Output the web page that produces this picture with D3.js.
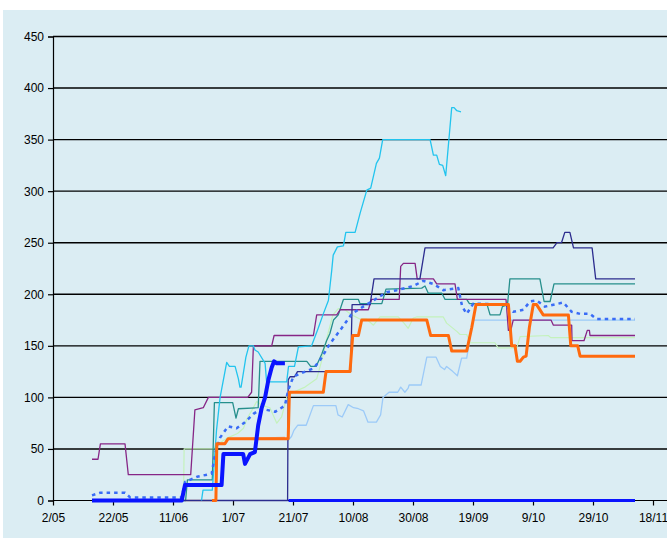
<!DOCTYPE html>
<html>
<head>
<meta charset="utf-8">
<script src="https://cdn.jsdelivr.net/npm/d3@7"></script>
<style>
body { margin: 0; background: #ffffff; }
svg text { font-family: Arial, "Liberation Sans", sans-serif; font-size: 12px; fill: #000; }
</style>
</head>
<body>
<svg id="chart"></svg>
<script>
var screen = {width: 667, height: 538};
var margins = {top: 36.5, right: 14, bottom: 37.5, left: 53};

// day offsets counted from 2/05
var startDate = new Date(2007, 4, 2);
var xTickLabels = ["2/05", "22/05", "11/06", "1/07", "21/07", "10/08", "30/08", "19/09", "9/10", "29/10", "18/11"];
var yTicks = [0, 50, 100, 150, 200, 250, 300, 350, 400, 450];

var purple = [[13,40],[15,40],[15.8,55],[24,55],[25.1,25],[45.9,25],[47.3,88],[50.1,90],[51.8,100],[64.9,100],[66.2,105],[66.8,150],[72.9,150],[73.7,160],[86.8,160],[87.9,180],[94.6,180],[95.7,185],[105.1,185],[106.2,195],[115.4,195],[115.9,227],[116.8,230],[120.7,230],[121.4,215],[126.8,215],[127.9,210],[134,210],[134.8,195],[151,195],[151.8,165],[152.6,165],[153.4,175],[166,175],[166.8,170],[172.9,170],[173,155],[177,155],[178.1,165],[178.8,165],[179,160],[194,160]];

var cyan = [[49.5,0],[50,10],[53.1,10],[54.5,68],[55.7,100],[57.9,134],[58.8,130],[60.7,130],[61.8,118],[62.3,110],[62.7,110],[64.3,139],[65.3,150],[66.8,150],[67.3,146],[68.4,144],[70.7,133],[71.2,115],[77.9,115],[78.5,130],[80.5,130],[81.8,149],[86.2,150],[88.4,167],[90.1,181],[91.8,194],[92.9,223],[93.4,238],[94.8,246],[96.8,247],[97.6,260],[100.7,260],[102.4,279],[104.6,301],[105.9,303],[107.8,327],[108.8,332],[109.9,350],[125.7,350],[126.8,335],[127.9,335],[128.8,326],[129.9,325],[130.9,315],[132.9,381],[133.7,381],[134.6,378],[136,377]];

var navy = [[13,0],[78.2,0],[78.4,117],[79,120],[80.5,120],[81.5,125],[99.2,125],[99.7,190],[105.7,190],[107,215],[122.3,215],[124,245],[166.7,245],[168,250],[169.5,250],[170.6,260],[172.3,260],[173.5,245],[179.7,245],[180.9,215],[194,215]];

var teal = [[13,0],[44.2,0],[44.8,20],[53.1,20],[53.8,95],[59.9,95],[61,80],[61.8,89],[68.4,90],[69,135],[84.6,135],[85.9,130],[87.7,130],[89.6,142],[91.2,155],[92.3,162],[93.5,175],[95.1,180],[96.8,195],[101.8,195],[102.3,191],[109.6,191],[111,205],[122.9,206],[124,208],[125.1,201],[129.6,201],[130.7,195],[137.9,195],[138.8,191],[144.6,191],[145.7,180],[149,180],[149.8,188],[151.5,190],[152.3,215],[162.3,215],[163.7,193],[165.7,193],[167,210],[194,210]];

var orange = [[53,0],[54.3,0],[54.6,55],[57.3,55],[58.4,60],[78.4,60],[78.8,105],[90.1,105],[91,125],[99,125],[99.9,160],[101.8,160],[102.9,175],[124.6,175],[125.9,160],[131.8,160],[132.9,145],[137.9,145],[139.6,168],[141,190],[151.8,190],[152.9,150],[154,150],[154.8,135],[155.7,135],[156.8,139],[157.7,140],[158.8,168],[160.1,190],[161.2,190],[163.4,180],[171.8,180],[172.6,150],[174.9,150],[175.7,140],[194,140]];

var thickBlue = [[13,0],[42.9,0],[44,15],[56.2,15],[56.8,45],[63.4,45],[64,35.5],[65.7,45],[67.3,47],[68.4,73],[69.6,90],[70.7,100],[71.8,117],[72.9,129],[73.7,135],[74.6,133],[77.3,133]];
var zeroBlue = [[78.5,0],[194,0]];

var dotted = [[13,5],[15.7,7.5],[24,7.5],[25.7,3],[42.9,3],[44,18],[48,23],[52.9,26],[54,45],[55.7,61],[58.4,72],[61.2,70],[64,76],[66.8,84],[69.6,89],[74,86],[77.3,92],[78.4,107],[80.1,120],[82.3,123],[86.8,128],[89,136],[92.3,152],[96.2,167],[99.6,181],[103.4,188],[106.8,194],[111.2,202],[114.6,204],[120.1,208],[123.4,213],[126.8,210],[130.1,204],[135.1,206],[136.4,188],[137.9,181],[140.1,191],[150.1,190],[153.4,183],[156.8,185],[159,193],[161.2,194],[164,188],[170.1,192],[172.9,183],[175.7,181],[179,181],[181.2,176],[194,176]];

var lightBlue = [[78.2,58],[79.5,62],[80.3,68],[81.6,73],[84.4,73],[86.8,92],[94.3,92],[95,83],[96.4,81],[98.4,93],[100.2,90],[101.8,89],[103.5,87],[105,76],[107.8,76],[109.2,83],[110,100],[112,105],[114.9,105],[115.9,110],[117.3,105],[118.4,109],[118.7,112],[122.7,112],[124.6,139],[127.7,139],[129.1,130],[130.5,127],[131.2,130],[133.3,125],[134.8,121],[136.2,138],[137.9,138],[140,175],[194,175]];

var paleGreen = [[43.5,0],[43.7,50],[53.4,50],[55.1,55],[58.4,61],[61.5,65],[63.5,70],[64.6,79],[66.2,87],[67.9,96],[70,92],[72.3,90],[74.6,75],[76.2,81],[77.9,100],[80,105],[84,110],[87.9,118],[89.5,135],[91.5,160],[93.3,180],[95.1,186],[97.3,185],[99.6,180],[102.3,176],[104.5,176],[106.8,170],[109,178],[115.1,178],[117,172],[118.4,167],[120.1,177],[121.2,178],[130.1,178],[131.2,172],[134.6,164],[135.7,161],[137.9,161],[139,153],[147.3,153],[148.4,148],[154.6,148],[155.7,159],[165.1,160],[165.9,158],[194,158]];

var tan = [[44,0],[54.3,0],[54.8,55],[57.3,56],[58.4,60],[77.3,61]];

var series = [
    {data: paleGreen, color: "#c4f2bc", width: 1.2},
    {data: tan, color: "#e2a98a", width: 1.5},
    {data: lightBlue, color: "#9ccaf8", width: 1.3},
    {data: teal, color: "#268f8c", width: 1.3},
    {data: purple, color: "#862686", width: 1.3},
    {data: navy, color: "#2c2c8e", width: 1.3},
    {data: cyan, color: "#22c4ee", width: 1.3},
    {data: dotted, color: "#3a6cf6", width: 2.5, dash: "3.5,4"},
    {data: orange, color: "#ff6a0e", width: 3},
    {data: thickBlue, color: "#0a14ff", width: 4},
    {data: zeroBlue, color: "#0a14ff", width: 3}
];

var svg = d3.select("#chart")
    .attr("width", screen.width)
    .attr("height", screen.height);

svg.append("rect")
    .attr("x", 3).attr("y", 10)
    .attr("width", screen.width - 3).attr("height", screen.height - 10)
    .attr("fill", "#dbedf3");

var toDate = function(d) { return d3.timeDay.offset(startDate, Math.floor(d)).getTime() + (d - Math.floor(d)) * 86400000; };

var xScale = d3.scaleTime()
    .domain([startDate, d3.timeDay.offset(startDate, 200)])
    .range([margins.left, margins.left + 600]);

var yScale = d3.scaleLinear()
    .domain([0, 450])
    .range([500.5, margins.top]);

// horizontal grid
svg.append("g")
    .selectAll("line")
    .data(yTicks.slice(1))
    .enter()
    .append("line")
    .attr("x1", margins.left)
    .attr("x2", screen.width)
    .attr("y1", function(d) { return yScale(d); })
    .attr("y2", function(d) { return yScale(d); })
    .attr("stroke", "#000")
    .attr("stroke-width", 1.4);

var xTickDates = xTickLabels.map(function(t, i) { return d3.timeDay.offset(startDate, i * 20); });

var xAxis = d3.axisBottom(xScale)
    .tickValues(xTickDates)
    .tickFormat(function(d, i) { return xTickLabels[i]; })
    .tickSize(5)
    .tickPadding(8);

var yAxis = d3.axisLeft(yScale)
    .tickValues(yTicks)
    .tickSize(5)
    .tickPadding(4);

var gx = svg.append("g")
    .attr("transform", "translate(0,500.5)")
    .call(xAxis);
gx.select(".domain").attr("d", "M" + margins.left + ",0H" + screen.width);

var gy = svg.append("g")
    .attr("transform", "translate(" + margins.left + ",0)")
    .call(yAxis);

svg.selectAll(".domain, .tick line").attr("stroke", "#000").attr("stroke-width", 1.2);
svg.selectAll(".tick text").style("font-size", "12px").attr("fill", "#000");

// series drawn over the axes, as in the original
var line = d3.line()
    .x(function(p) { return xScale(toDate(p[0])); })
    .y(function(p) { return yScale(p[1]); });

svg.append("g")
    .selectAll("path")
    .data(series)
    .enter()
    .append("path")
    .attr("d", function(s) { return line(s.data); })
    .attr("fill", "none")
    .attr("stroke", function(s) { return s.color; })
    .attr("stroke-width", function(s) { return s.width; })
    .attr("stroke-dasharray", function(s) { return s.dash || null; })
    .attr("stroke-linejoin", "round");
</script>
</body>
</html>
